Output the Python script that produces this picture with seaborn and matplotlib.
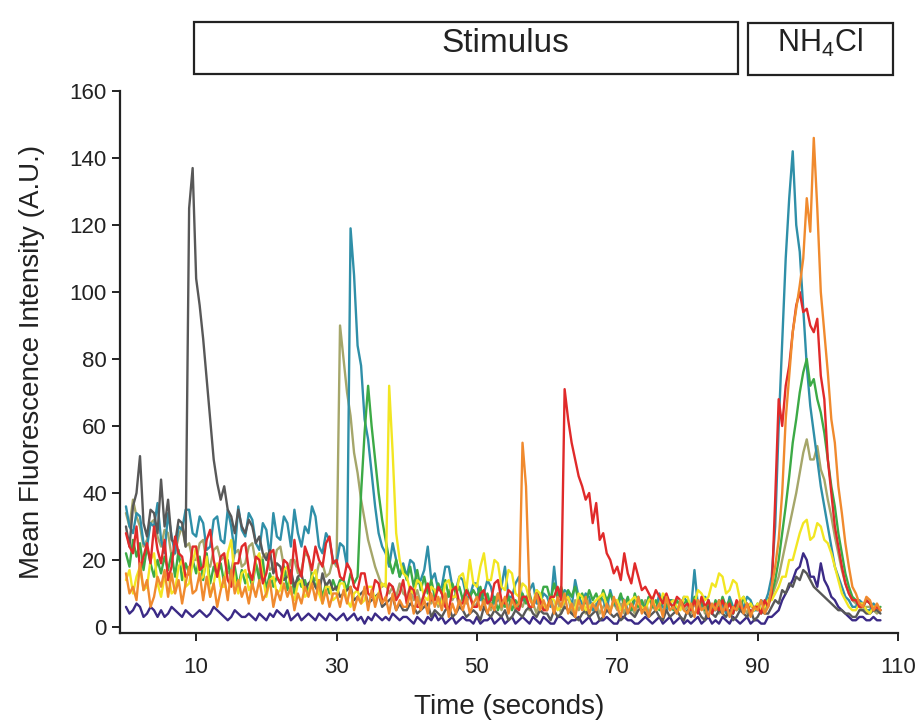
import matplotlib
matplotlib.use("Agg")
import matplotlib.pyplot as plt
from matplotlib.patches import Rectangle
import pandas as pd
import seaborn as sns

# readings every 0.5 s, one row of the list = 10 seconds
gray = [30, 24, 36, 40, 51, 31, 27, 35, 34, 28, 44, 30, 38, 26, 25, 32, 31, 24, 125, 137,
        104, 96, 86, 74, 62, 50, 43, 38, 42, 35, 33, 28, 35, 30, 28, 32, 30, 25, 27, 22,
        20, 23, 16, 19, 18, 14, 15, 17, 12, 15, 16, 11, 13, 14, 12, 10, 16, 12, 14, 11,
        12, 9, 10, 11, 12, 8, 9, 10, 11, 7, 8, 9, 10, 6, 7, 8, 9, 5, 7, 5,
        5, 7, 6, 4, 5, 6, 7, 3, 5, 4, 3, 5, 6, 3, 4, 6, 5, 3, 4, 5,
        4, 2, 6, 4, 3, 5, 4, 3, 5, 2, 3, 5, 4, 3, 5, 6, 4, 3, 5, 4,
        4, 2, 5, 3, 4, 6, 5, 4, 3, 2, 4, 5, 3, 4, 5, 2, 3, 5, 4, 3,
        4, 2, 3, 5, 4, 3, 5, 6, 4, 3, 4, 5, 3, 2, 5, 3, 4, 5, 3, 2,
        5, 3, 4, 5, 3, 2, 6, 4, 3, 5, 4, 3, 5, 2, 3, 5, 4, 3, 5, 2,
        3, 5, 4, 4, 6, 8, 7, 11, 10, 13, 12, 15, 14, 17, 16, 14, 12, 11, 10, 9,
        8, 7, 6, 5, 5, 4, 4, 3, 3, 5, 5, 4, 4, 5, 5, 4]

teal = [36, 30, 28, 34, 33, 25, 24, 31, 30, 37, 26, 22, 34, 27, 22, 30, 29, 35, 35, 28,
        27, 33, 31, 23, 24, 32, 33, 26, 25, 35, 30, 22, 36, 29, 27, 34, 32, 25, 23, 31,
        29, 21, 34, 27, 26, 33, 31, 24, 35, 28, 24, 30, 28, 36, 33, 24, 22, 28, 26, 20,
        19, 25, 24, 18, 119, 105, 84, 78, 62, 56, 46, 36, 28, 24, 22, 18, 25, 20, 15, 19,
        15, 20, 19, 13, 14, 17, 24, 14, 16, 11, 12, 18, 18, 12, 11, 15, 14, 9, 9, 13,
        13, 8, 10, 14, 12, 7, 8, 12, 18, 9, 9, 13, 15, 8, 8, 11, 13, 7, 7, 10,
        9, 6, 18, 8, 8, 11, 10, 6, 14, 9, 7, 10, 9, 5, 6, 9, 8, 5, 11, 7,
        6, 9, 8, 5, 5, 8, 9, 6, 6, 9, 7, 5, 10, 6, 5, 8, 8, 5, 6, 9,
        7, 5, 17, 6, 6, 9, 8, 5, 5, 8, 7, 4, 9, 6, 5, 7, 6, 9, 8, 5,
        5, 8, 7, 10, 15, 30, 60, 85, 110, 128, 142, 120, 112, 95, 78, 66, 58, 50, 42, 36,
        30, 24, 18, 15, 12, 9, 8, 6, 6, 8, 7, 5, 5, 7, 6, 5]

olive = [34, 30, 38, 33, 30, 24, 26, 31, 32, 27, 24, 29, 28, 21, 22, 27, 30, 24, 25, 20,
         20, 25, 26, 19, 18, 23, 24, 20, 21, 16, 17, 22, 23, 18, 19, 24, 25, 19, 16, 21,
         22, 17, 18, 23, 24, 18, 15, 20, 20, 16, 17, 22, 21, 15, 14, 19, 19, 15, 16, 20,
         18, 90, 80, 70, 63, 52, 46, 38, 32, 26, 22, 18, 15, 12, 13, 10, 12, 9, 13, 10,
         9, 12, 8, 11, 7, 10, 12, 7, 10, 6, 9, 7, 11, 8, 10, 6, 9, 7, 10, 6,
         7, 10, 6, 9, 5, 8, 10, 5, 8, 6, 9, 5, 8, 6, 9, 5, 7, 4, 8, 5,
         6, 9, 5, 8, 4, 7, 9, 4, 8, 5, 7, 4, 8, 5, 7, 4, 6, 8, 5, 7,
         5, 7, 4, 8, 6, 4, 7, 5, 8, 4, 6, 5, 8, 4, 7, 5, 6, 4, 7, 5,
         6, 4, 7, 5, 8, 4, 6, 5, 7, 4, 6, 5, 8, 4, 7, 5, 6, 4, 7, 5,
         6, 4, 5, 7, 9, 12, 15, 20, 25, 30, 35, 40, 46, 52, 56, 50, 50, 54, 47, 44,
         38, 33, 27, 22, 17, 13, 10, 8, 7, 6, 5, 6, 6, 5, 4, 5]

green = [22, 18, 26, 21, 25, 17, 24, 19, 15, 20, 16, 21, 17, 22, 15, 23, 14, 19, 16, 20,
         16, 21, 14, 22, 13, 18, 15, 19, 13, 20, 14, 18, 12, 17, 13, 16, 12, 19, 14, 20,
         11, 16, 12, 15, 13, 18, 11, 16, 10, 15, 12, 14, 10, 16, 12, 14, 9, 13, 10, 14,
         11, 14, 14, 11, 16, 13, 15, 40, 58, 72, 60, 50, 40, 32, 26, 20, 16, 20, 15, 18,
         14, 18, 12, 17, 11, 15, 10, 14, 9, 13, 10, 14, 9, 13, 10, 12, 8, 12, 9, 11,
         9, 12, 7, 10, 6, 9, 5, 8, 6, 9, 5, 8, 6, 10, 7, 10, 6, 11, 8, 12,
         12, 8, 13, 9, 12, 8, 11, 9, 12, 8, 10, 7, 11, 8, 10, 7, 11, 8, 10, 7,
         7, 10, 6, 9, 5, 10, 6, 8, 5, 9, 6, 8, 5, 9, 6, 8, 5, 8, 6, 7,
         8, 5, 9, 6, 8, 5, 7, 4, 8, 5, 9, 6, 8, 4, 7, 5, 9, 6, 7, 5,
         7, 5, 6, 8, 10, 14, 20, 28, 36, 45, 55, 62, 70, 76, 80, 72, 74, 68, 64, 58,
         50, 42, 36, 28, 22, 16, 12, 9, 8, 6, 6, 8, 7, 5, 5, 6]

yellow = [14, 17, 10, 15, 18, 11, 12, 20, 22, 13, 9, 15, 16, 10, 11, 18, 20, 12, 13, 19,
          24, 14, 15, 21, 9, 13, 19, 12, 12, 22, 26, 14, 10, 16, 17, 11, 13, 20, 22, 15,
          9, 14, 15, 10, 11, 17, 18, 10, 8, 13, 14, 9, 10, 15, 17, 10, 7, 12, 12, 8,
          9, 13, 13, 8, 6, 10, 11, 7, 8, 12, 12, 8, 10, 13, 12, 72, 52, 28, 20, 16,
          15, 11, 10, 14, 13, 9, 8, 12, 11, 7, 7, 13, 14, 9, 9, 15, 16, 11, 20, 13,
          12, 18, 22, 14, 14, 20, 19, 12, 11, 17, 16, 10, 9, 13, 12, 8, 7, 11, 10, 6,
          6, 9, 8, 5, 6, 8, 9, 6, 5, 10, 9, 5, 6, 7, 8, 9, 10, 6, 5, 8,
          8, 5, 6, 7, 8, 9, 7, 6, 5, 8, 9, 5, 6, 10, 9, 7, 8, 6, 5, 9,
          9, 6, 7, 11, 10, 8, 9, 13, 12, 16, 15, 10, 11, 14, 13, 8, 9, 6, 7, 5,
          7, 5, 6, 8, 8, 10, 12, 15, 15, 20, 20, 24, 28, 31, 32, 26, 27, 31, 30, 26,
          25, 22, 18, 14, 10, 8, 6, 5, 5, 7, 7, 5, 4, 6, 6, 5]

orange = [16, 10, 12, 8, 19, 11, 14, 6, 9, 15, 12, 17, 9, 16, 10, 14, 7, 13, 18, 10,
          11, 16, 8, 15, 9, 13, 6, 11, 15, 8, 17, 10, 14, 9, 12, 7, 13, 9, 14, 8,
          10, 14, 6, 11, 8, 13, 9, 12, 5, 10, 7, 12, 9, 13, 8, 14, 7, 11, 6, 10,
          10, 6, 11, 7, 12, 5, 9, 7, 12, 5, 11, 6, 10, 7, 9, 4, 10, 5, 8, 6,
          6, 10, 4, 9, 5, 8, 4, 10, 6, 9, 5, 10, 3, 7, 4, 8, 5, 9, 4, 7,
          9, 5, 8, 4, 7, 5, 10, 6, 9, 4, 8, 6, 7, 55, 42, 9, 6, 10, 5, 8,
          5, 8, 4, 9, 6, 10, 4, 7, 3, 8, 5, 9, 4, 7, 5, 8, 3, 7, 4, 9,
          6, 3, 8, 4, 7, 5, 9, 4, 6, 3, 8, 5, 7, 3, 9, 5, 6, 4, 8, 5,
          4, 7, 3, 8, 5, 6, 3, 7, 5, 8, 4, 7, 3, 6, 5, 8, 4, 7, 3, 6,
          5, 8, 4, 6, 12, 18, 26, 40, 62, 75, 88, 95, 102, 110, 128, 118, 146, 125, 100, 88,
          76, 62, 55, 42, 34, 25, 18, 12, 10, 7, 6, 9, 8, 5, 7, 5]

red = [28, 24, 22, 30, 17, 21, 25, 19, 30, 23, 19, 26, 14, 18, 27, 22, 21, 15, 16, 24,
       24, 17, 18, 26, 29, 20, 15, 21, 22, 14, 12, 19, 19, 24, 25, 17, 14, 21, 20, 13,
       16, 22, 23, 15, 13, 20, 19, 13, 26, 18, 15, 24, 21, 17, 24, 20, 18, 25, 27, 19,
       20, 15, 14, 19, 17, 12, 11, 16, 16, 10, 9, 14, 13, 8, 8, 13, 12, 8, 10, 14,
       7, 12, 11, 6, 6, 10, 13, 8, 8, 12, 10, 6, 5, 11, 12, 7, 7, 11, 9, 6,
       6, 10, 11, 7, 8, 13, 14, 8, 7, 11, 10, 6, 5, 9, 9, 6, 6, 10, 8, 5,
       5, 9, 9, 12, 8, 71, 62, 55, 50, 45, 42, 38, 40, 31, 37, 26, 28, 22, 20, 16,
       18, 14, 22, 16, 13, 19, 15, 11, 12, 10, 8, 11, 9, 7, 10, 7, 6, 9, 8, 6,
       7, 5, 8, 4, 9, 6, 8, 4, 7, 5, 8, 5, 7, 4, 8, 6, 5, 7, 4, 6,
       6, 4, 8, 6, 10, 38, 68, 60, 72, 78, 88, 96, 100, 94, 95, 90, 88, 92, 75, 68,
       50, 40, 30, 24, 18, 13, 10, 8, 8, 6, 6, 8, 7, 5, 6, 5]

purple = [6, 4, 5, 7, 6, 3, 4, 6, 5, 3, 5, 3, 4, 6, 5, 4, 3, 5, 4, 3,
          4, 5, 4, 3, 4, 6, 5, 4, 3, 2, 3, 5, 4, 3, 3, 4, 3, 2, 4, 3,
          2, 4, 3, 5, 4, 3, 5, 2, 3, 4, 2, 3, 4, 3, 2, 4, 3, 2, 4, 3,
          2, 3, 4, 2, 3, 4, 2, 3, 1, 3, 2, 4, 3, 2, 3, 2, 4, 3, 2, 3,
          3, 2, 1, 3, 2, 1, 3, 2, 4, 2, 3, 1, 2, 3, 1, 2, 3, 2, 2, 1,
          3, 1, 2, 2, 3, 1, 2, 3, 1, 2, 3, 1, 2, 3, 2, 1, 3, 2, 1, 3,
          2, 1, 1, 3, 3, 2, 1, 2, 2, 3, 1, 2, 3, 1, 1, 2, 2, 3, 2, 1,
          1, 3, 3, 2, 2, 1, 1, 2, 3, 2, 1, 2, 3, 1, 2, 3, 1, 2, 3, 1,
          2, 1, 2, 3, 1, 2, 3, 1, 2, 1, 3, 2, 1, 3, 2, 1, 2, 3, 1, 2,
          2, 1, 1, 3, 3, 4, 5, 8, 10, 12, 14, 17, 18, 22, 20, 15, 15, 12, 19, 14,
          12, 9, 8, 6, 5, 4, 3, 2, 2, 3, 3, 2, 2, 3, 2, 2]

x_ticks = [10, 30, 50, 70, 90, 110]
y_ticks = [0, 20, 40, 60, 80, 100, 120, 140, 160]

series = {"purple": purple, "olive": olive, "teal": teal, "green": green,
          "gray": gray, "yellow": yellow, "red": red, "orange": orange}
palette = {"purple": "#3b2a86", "olive": "#a5a66a", "teal": "#2f8fa8",
           "green": "#3caa46", "gray": "#585858", "yellow": "#f2e622",
           "red": "#e02a2a", "orange": "#f08a2e"}

frames = []
for name, vals in series.items():
    t = [i * 0.5 for i in range(len(vals))]
    frames.append(pd.DataFrame({"t": t, "v": vals, "cell": name}))
df = pd.concat(frames, ignore_index=True)

sns.set_style("ticks")
plt.rcParams["font.family"] = ["Liberation Sans", "DejaVu Sans"]
plt.rcParams["mathtext.default"] = "regular"

fig = plt.figure(figsize=(9.2, 7.24), dpi=100)
ax = fig.add_axes([120 / 920, 91 / 724, 778 / 920, 542 / 724])

sns.lineplot(data=df, x="t", y="v", hue="cell", hue_order=list(series.keys()),
             palette=palette, estimator=None, sort=False, legend=False,
             linewidth=1.7, ax=ax)

ax.set_xlim(-0.85, 110)
ax.set_ylim(-1.8, 160)
ax.set_xticks(x_ticks)
ax.set_yticks(y_ticks)
ax.tick_params(axis="both", labelsize=16, length=6, width=1.4, color="#222222",
               labelcolor="#222222")
ax.tick_params(axis="x", pad=11)
for side in ["top", "right"]:
    ax.spines[side].set_visible(False)
for side in ["left", "bottom"]:
    ax.spines[side].set_linewidth(1.6)
    ax.spines[side].set_color("#222222")

ax.set_xlabel("Time (seconds)", fontsize=20, color="#222222", labelpad=12)
ax.set_ylabel("Mean Fluorescence Intensity (A.U.)", fontsize=20,
              color="#222222", labelpad=18)

# stimulus bars above the plot
fig.patches.append(Rectangle((194 / 920, 650 / 724), 544 / 920, 52 / 724,
                             transform=fig.transFigure, fill=False,
                             edgecolor="#222222", linewidth=1.6))
fig.patches.append(Rectangle((748 / 920, 649 / 724), 145 / 920, 52 / 724,
                             transform=fig.transFigure, fill=False,
                             edgecolor="#222222", linewidth=1.6))
fig.text(505 / 920, 681 / 724, "Stimulus", fontsize=24, ha="center",
         va="center", color="#222222")
fig.text(820 / 920, 681 / 724, "NH$_4$Cl", fontsize=22, ha="center",
         va="center", color="#222222")

fig.savefig("out.png", dpi=100)
